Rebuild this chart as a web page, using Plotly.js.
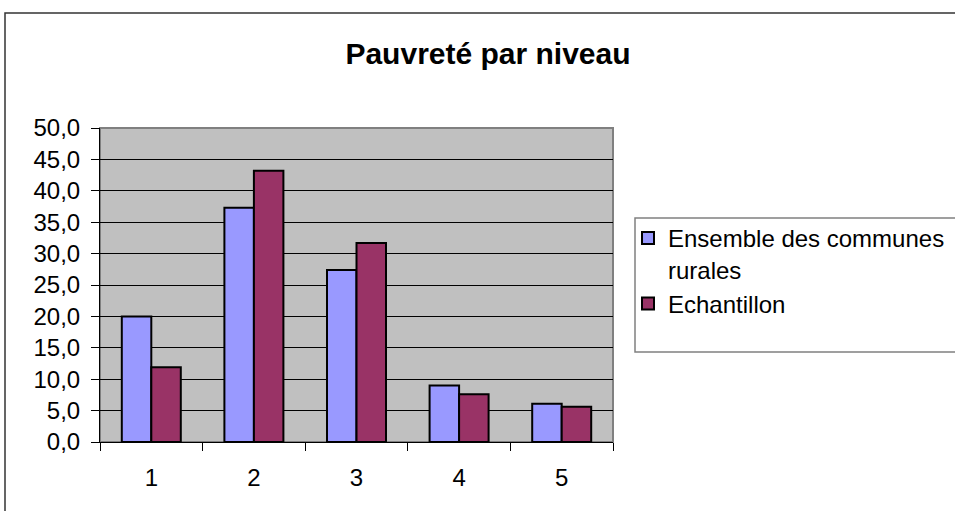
<!DOCTYPE html>
<html>
<head>
<meta charset="utf-8">
<script src="https://cdn.plot.ly/plotly-3.0.1.min.js"></script>
<style>
html,body{margin:0;padding:0;background:#fff;}
#chart{width:955px;height:511px;}
</style>
</head>
<body>
<div id="chart"></div>
<script>
const categories = ["1", "2", "3", "4", "5"];
const seriesNames = ["Ensemble des communes<br>rurales", "Echantillon"];
const ensembleValues = [20.0, 37.3, 27.4, 9.0, 6.1];
const echantillonValues = [11.9, 43.2, 31.7, 7.6, 5.6];
const yTickValues = [0, 5, 10, 15, 20, 25, 30, 35, 40, 45, 50];

const FONT = '"Liberation Sans", Arial, sans-serif';

const traces = [
  {
    type: 'bar', name: seriesNames[0], x: categories, y: ensembleValues,
    marker: {color: '#9999FF', line: {color: '#000000', width: 2}},
    hoverinfo: 'skip'
  },
  {
    type: 'bar', name: seriesNames[1], x: categories, y: echantillonValues,
    marker: {color: '#993366', line: {color: '#000000', width: 2}},
    hoverinfo: 'skip'
  }
];

const L = 100, R = 613, T = 128, B = 442;
const px = v => (v - L) / (R - L);
const py = v => (B - v) / (B - T);

const layout = {
  width: 955, height: 511,
  margin: {l: L, r: 955 - R, t: T, b: 511 - B, pad: 0, autoexpand: false},
  paper_bgcolor: '#ffffff',
  plot_bgcolor: '#C0C0C0',
  separators: ', ',
  font: {family: FONT, color: '#000000', size: 24},
  title: {
    text: '<b>Pauvreté par niveau</b>',
    font: {family: FONT, size: 30, color: '#000000'},
    x: 488 / 955, xref: 'container', xanchor: 'center',
    y: 1 - 53 / 511, yref: 'container', yanchor: 'middle'
  },
  barmode: 'group',
  bargap: 0.425,
  bargroupgap: 0,
  xaxis: {
    type: 'category',
    tickson: 'boundaries',
    ticks: 'outside', ticklen: 8, tickwidth: 1, tickcolor: '#000000',
    ticklabelstandoff: 14,
    showline: true, linecolor: '#000000', linewidth: 1,
    showgrid: false, zeroline: false,
    tickfont: {family: FONT, size: 24, color: '#000000'},
    automargin: false,
    fixedrange: true
  },
  yaxis: {
    range: [0, 50],
    tickvals: yTickValues,
    tickformat: '.1f',
    ticks: 'outside', ticklen: 8, tickwidth: 1, tickcolor: '#000000',
    ticklabelstandoff: 6,
    showline: true, linecolor: '#000000', linewidth: 1,
    showgrid: true, gridcolor: '#000000', gridwidth: 1,
    zeroline: false,
    tickfont: {family: FONT, size: 24, color: '#000000'},
    automargin: false,
    fixedrange: true
  },
  showlegend: true,
  legend: {
    x: px(628), xanchor: 'left',
    y: py(216), yanchor: 'top',
    xref: 'paper', yref: 'paper',
    bgcolor: 'rgba(0,0,0,0)',
    borderwidth: 0,
    valign: 'top',
    font: {family: FONT, size: 24, color: '#000000'},
    tracegroupgap: 4
  },
  shapes: [
    {type: 'rect', xref: 'paper', yref: 'paper',
     x0: px(5), x1: px(1000), y0: py(560), y1: py(13),
     line: {color: '#333333', width: 1.5}, layer: 'below'},
    {type: 'rect', xref: 'paper', yref: 'paper',
     x0: 0, x1: 1, y0: 0, y1: 1,
     line: {color: '#808080', width: 2}, layer: 'below'},
    {type: 'rect', xref: 'paper', yref: 'paper',
     x0: px(635), x1: px(1000), y0: py(352), y1: py(218),
     line: {color: '#808080', width: 1.5}, layer: 'below'}
  ]
};

Plotly.newPlot('chart', traces, layout, {staticPlot: true, displayModeBar: false});
</script>
</body>
</html>
